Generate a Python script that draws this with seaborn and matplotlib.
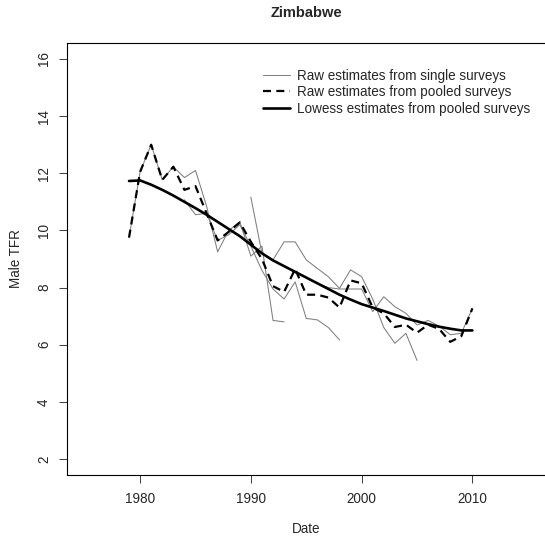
import numpy as np
import pandas as pd
import matplotlib
matplotlib.use("Agg")
import matplotlib.pyplot as plt
from matplotlib.lines import Line2D
import seaborn as sns

# Single-survey raw estimates (year ranges and values per survey)
s1_years = list(range(1979, 1994))
s1_tfr = [9.75, 12.05, 13.0, 11.77, 12.23, 11.85, 12.1, 10.85, 9.25, 10.0,
          10.3, 9.1, 9.45, 6.85, 6.8]
s2_years = list(range(1984, 1999))
s2_tfr = [11.07, 10.55, 10.6, 9.65, 9.85, 10.2, 9.45, 8.6, 7.95, 7.6,
          8.2, 6.92, 6.87, 6.6, 6.17]
s3_years = list(range(1990, 2006))
s3_tfr = [11.16, 9.2, 8.97, 9.6, 9.6, 8.97, 8.67, 8.38, 7.97, 8.62,
          8.38, 7.6, 6.6, 6.05, 6.4, 5.45]
s4_years = list(range(1996, 2011))
s4_tfr = [8.15, 8.0, 7.95, 7.95, 7.95, 7.16, 7.68, 7.33, 7.1, 6.69,
          6.85, 6.65, 6.35, 6.4, 7.27]

# Pooled raw estimates and their lowess smooth
pooled_years = list(range(1979, 2011))
pooled_tfr = [9.75, 12.05, 13.0, 11.77, 12.23, 11.42, 11.55, 10.6, 9.65, 9.95,
              10.28, 9.6, 9.0, 8.05, 7.85, 8.65, 7.75, 7.75, 7.65, 7.3,
              8.25, 8.15, 7.3, 7.1, 6.62, 6.7, 6.42, 6.7, 6.55, 6.1,
              6.3, 7.27]
lowess_tfr = [11.73, 11.75, 11.6, 11.42, 11.22, 11.0, 10.78, 10.55, 10.3, 10.05,
              9.8, 9.5, 9.2, 8.95, 8.75, 8.55, 8.35, 8.15, 7.95, 7.75,
              7.58, 7.42, 7.3, 7.18, 7.05, 6.92, 6.82, 6.72, 6.63, 6.56,
              6.5, 6.5]

x_ticks = [1980, 1990, 2000, 2010]
y_ticks = [2, 4, 6, 8, 10, 12, 14, 16]
legend_labels = ["Raw estimates from single surveys",
                 "Raw estimates from pooled surveys",
                 "Lowess estimates from pooled surveys"]

surveys = pd.concat([
    pd.DataFrame({"year": y, "tfr": v, "survey": name})
    for name, y, v in [("s1", s1_years, s1_tfr), ("s2", s2_years, s2_tfr),
                       ("s3", s3_years, s3_tfr), ("s4", s4_years, s4_tfr)]
], ignore_index=True)
pooled = pd.DataFrame({"year": pooled_years, "raw": pooled_tfr, "lowess": lowess_tfr})

sns.set_style("white")
plt.rcParams["font.family"] = ["Liberation Sans", "DejaVu Sans"]

fs = 9.75
fig = plt.figure(figsize=(5.45, 5.39), dpi=100)
ax = fig.add_axes([67 / 545, 1 - 475 / 539, 478.5 / 545, 432 / 539])

gray = "#7f7f7f"
sns.lineplot(data=surveys, x="year", y="tfr", units="survey", estimator=None,
             color=gray, linewidth=0.75, ax=ax, legend=False)
sns.lineplot(data=pooled, x="year", y="raw", color="black", linewidth=1.6,
             ax=ax, legend=False)
ax.lines[-1].set_dashes((3.6, 2.4))
sns.lineplot(data=pooled, x="year", y="lowess", color="black", linewidth=1.9,
             ax=ax, legend=False)

ax.set_xlim(1973.4, 2016.6)
ax.set_ylim(1.44, 16.56)
ax.set_xticks(x_ticks)
ax.set_yticks(y_ticks)
ax.set_xticklabels([str(t) for t in x_ticks])
ax.set_yticklabels([str(t) for t in y_ticks], rotation=90, va="center")

for side in ["left", "right", "top", "bottom"]:
    ax.spines[side].set_visible(True)
    ax.spines[side].set_color("black")
    ax.spines[side].set_linewidth(0.8)

ax.tick_params(axis="both", which="major", direction="out", length=5.5,
               width=0.75, color="#444444", labelsize=fs, bottom=True, left=True)
ax.tick_params(axis="x", pad=7)
ax.tick_params(axis="y", pad=6)

ax.set_xlabel("Date", fontsize=fs, labelpad=11)
ax.set_ylabel("Male TFR", fontsize=fs, labelpad=10)
ax.set_title("Zimbabwe", fontsize=10.5, fontweight="bold", pad=19)

handles = [
    Line2D([], [], color=gray, linewidth=0.75),
    Line2D([], [], color="black", linewidth=1.6, dashes=(3.6, 2.4)),
    Line2D([], [], color="black", linewidth=1.9),
]
ax.legend(handles, legend_labels, loc="upper left", bbox_to_anchor=(0.41, 0.94),
          frameon=False, fontsize=fs, handlelength=2.0, handletextpad=0.52,
          labelspacing=0.17, borderpad=0, borderaxespad=0)

fig.savefig("out.png", dpi=100)
